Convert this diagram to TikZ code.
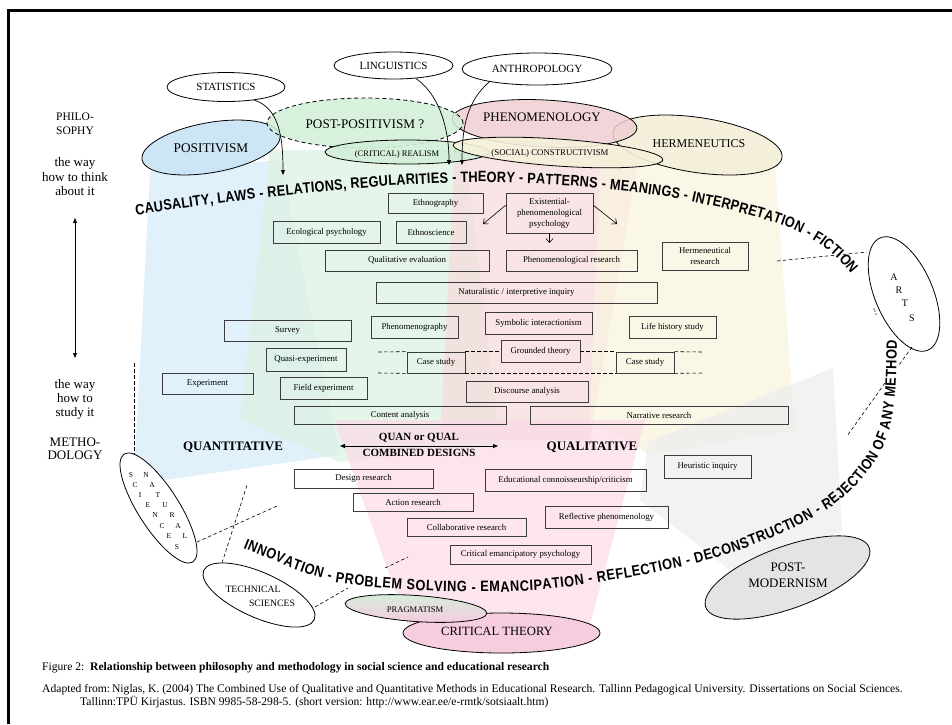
\documentclass[tikz,border=0pt]{standalone}
\usepackage{fontspec}
\setmainfont{Liberation Serif}
\newfontfamily\arcfont[FakeStretch=0.85]{Liberation Sans}
\usetikzlibrary{shapes.geometric,arrows.meta,decorations.text}
\definecolor{fanblue}{HTML}{D4ECFA}
\definecolor{fangreen}{HTML}{DCF2E1}
\definecolor{fanpink}{HTML}{F6D9DB}
\definecolor{fancream}{HTML}{F9F4DE}
\definecolor{fanpinkb}{HTML}{FBDAE8}
\definecolor{fangray}{HTML}{EDEDED}
\definecolor{cpos}{HTML}{CBE5F6}
\definecolor{cpost}{HTML}{D2EFD8}
\definecolor{cphen}{HTML}{F0CED2}
\definecolor{ccons}{HTML}{F5F0DA}
\definecolor{cherm}{HTML}{F4EFD8}
\definecolor{cpm}{HTML}{E4E4E4}
\definecolor{ccrit}{HTML}{F6CCDF}
\definecolor{boxgray}{HTML}{3C3C3C}
\begin{document}
\begin{tikzpicture}[x=1pt,y=-1pt,
  box/.style={draw=boxgray,line width=0.7pt,inner sep=0pt,align=center,font=\fontsize{8.8}{10.5}\selectfont},
  ell/.style={ellipse,draw=black,line width=0.8pt,inner sep=0pt},
  lbl/.style={inner sep=0pt,align=center},
  dsh/.style={draw=black,line width=0.6pt,dash pattern=on 3.5pt off 2.5pt},
  tip/.style={-{Triangle[length=5pt,width=4pt]}},
  dtip/.style={{Triangle[length=5pt,width=4pt]}-{Triangle[length=5pt,width=4pt]}},
  otip/.style={-{Straight Barb[length=4pt,width=7pt]}},
  fan/.style={fill opacity=0.7,draw=none},
  arctext/.style={decorate,decoration={text along path,text align=fit to path,
     text={|\arcfont\bfseries\fontsize{15}{15}\selectfont|#1}}}
]
\useasboundingbox (0,0) rectangle (952,724);
\fill[white] (0,0) rectangle (952,724);
% frame
\draw[line width=2.6pt] (8.5,724) -- (8.5,10.5) -- (952,10.5);

% background fans
\fill[fanblue,fan] (150,172) -- (280,160) -- (340,455) -- (165,480) -- (135,458) -- cycle;
\fill[fangreen,fan] (270,150) -- (465,150) -- (500,445) -- (340,462) -- (240,420) -- cycle;
\fill[fanpink,fan] (455,150) -- (640,150) -- (590,440) -- (440,440) -- cycle;
\fill[fancream,fan] (600,160) -- (775,165) -- (795,430) -- (650,455) -- (590,420) -- cycle;
\fill[fangray,fan] (648,442) -- (833,368) -- (842,532) -- (730,570) -- (640,500) -- cycle;
\fill[fanpinkb,fan] (334,420) -- (645,420) -- (588,632) -- (410,632) -- cycle;

% philosophy ellipses
\node[ell,fill=cherm,fill opacity=.9,minimum width=171,minimum height=55,rotate=-8.5] (herm) at (697.5,145) {};
\node[ell,fill=cphen,fill opacity=.85,minimum width=185,minimum height=47,rotate=-3] (phen) at (544.5,123.5) {};
\node[ell,fill=cpos,fill opacity=.95,minimum width=140,minimum height=50,rotate=10] (posit) at (211,147.5) {};
\node[ell,fill=cpost,fill opacity=.85,dash pattern=on 4pt off 3pt,minimum width=196,minimum height=50] (postpos) at (365,123) {};
\node[ell,fill=cpost,fill opacity=.9,minimum width=164,minimum height=24] (real) at (407,152) {};
\node[ell,fill=ccons,fill opacity=.9,minimum width=210,minimum height=27,rotate=-4] (cons) at (558,152.5) {};

\node[lbl,font=\fontsize{12}{12}\selectfont] (hermt) at (699,144) {HERMENEUTICS};
\node[lbl,font=\fontsize{13}{13}\selectfont] (phent) at (542,117) {PHENOMENOLOGY};
\node[lbl,font=\fontsize{13.3}{13}\selectfont] (positt) at (211,148) {POSITIVISM};
\node[lbl,font=\fontsize{13.2}{13}\selectfont] (postpost) at (365,124) {POST-POSITIVISM ?};
\node[lbl,font=\fontsize{8.5}{9}\selectfont] (realt) at (397,154) {(CRITICAL) REALISM};
\node[lbl,font=\fontsize{8.8}{9}\selectfont] (const) at (550,153) {(SOCIAL) CONSTRUCTIVISM};

% discipline ellipses
\node[ell,fill=white,minimum width=118,minimum height=29,font=\fontsize{11}{11}\selectfont] (stat) at (226,87) {STATISTICS};
\node[ell,fill=white,minimum width=119,minimum height=27,font=\fontsize{11}{11}\selectfont] (ling) at (393.5,65.5) {LINGUISTICS};
\node[ell,fill=white,minimum width=150,minimum height=32,font=\fontsize{11}{11}\selectfont] (anth) at (537,69) {ANTHROPOLOGY};

\node[ell,fill=white,minimum width=122,minimum height=58,rotate=-67] (arts) at (904,294) {};
\node[ell,fill=white,minimum width=128,minimum height=41,rotate=-57.5] (natsci) at (158.5,508) {};
\node[ell,fill=white,minimum width=121,minimum height=45,rotate=-24] (techsci) at (259,595) {};
\node[ell,fill=cpm,minimum width=174,minimum height=62,rotate=20] (postmod) at (787.5,577.5) {};
\node[ell,fill=ccrit,minimum width=197,minimum height=40] (crit) at (501.5,633) {};
\node[ell,top color=cpost,bottom color=ccrit,minimum width=142,minimum height=26,rotate=-4] (prag) at (416,608.5) {};

\node[lbl,font=\fontsize{12.6}{13}\selectfont] (critt) at (497,631) {CRITICAL THEORY};
\node[lbl,font=\fontsize{8.6}{9}\selectfont] (pragt) at (415,610) {PRAGMATISM};
\node[lbl,font=\fontsize{13}{16}\selectfont] (postmodt) at (788,575) {POST-\\MODERNISM};
\node[lbl,font=\fontsize{9.7}{10}\selectfont] (techt1) at (253,589) {TECHNICAL};
\node[lbl,font=\fontsize{9.7}{10}\selectfont] (techt2) at (272,603) {SCIENCES};

\foreach \c/\x/\y [count=\i] in {A/894/277,R/899/290,T/905/303,S/912/318}
  \node[lbl,font=\fontsize{10}{10}\selectfont] (art\i) at (\x,\y) {\c};
\node[lbl,font=\fontsize{11}{11}\selectfont,rotate=-68] (dots) at (875,312) {...};
\foreach \c/\x/\y [count=\i] in {S/131/475,C/135/485,I/140/495,E/148/505,N/155/515,C/162/526,E/169/536,S/177/547}
  \node[lbl,font=\fontsize{7.5}{8}\selectfont] (sci\i) at (\x,\y) {\c};
\foreach \c/\x/\y [count=\i] in {N/146/475,A/152/485,T/158/495,U/165/505,R/172/515,A/178/526,L/185/536}
  \node[lbl,font=\fontsize{7.5}{8}\selectfont] (nat\i) at (\x,\y) {\c};

% arrows from disciplines
\coordinate (statT) at (283,175);
\coordinate (lingT) at (449,165);
\coordinate (anthT) at (462,165);
\draw[tip,line width=0.7pt] (stat.-25) .. controls (280,108) and (283,140) .. (statT);
\draw[tip,line width=0.7pt] (ling.-30) .. controls (440,95) and (449,130) .. (lingT);
\draw[tip,line width=0.7pt] (anth.-165) .. controls (468,100) and (462,125) .. (anthT);

% left column
\node[lbl,font=\fontsize{11.5}{14}\selectfont] (philo) at (75,124) {PHILO-\\SOPHY};
\node[lbl,font=\fontsize{13}{14.5}\selectfont] (think) at (75,177) {the way\\how to think\\about it};
\node[lbl,font=\fontsize{13}{14}\selectfont] (study) at (75,399) {the way\\how to\\study it};
\node[lbl,font=\fontsize{13}{13.5}\selectfont] (metho) at (75,448.5) {METHO-\\DOLOGY};
\coordinate (vt) at (75,218);
\coordinate (vb) at (75,358);
\draw[dtip,line width=0.7pt] (vt) -- (vb);

% method boxes
\node[box,minimum width=95,minimum height=20] (eth) at (435.5,203) {Ethnography};
\node[box,minimum width=107,minimum height=22] (eco) at (326.5,232) {Ecological psychology};
\node[box,minimum width=70,minimum height=22] (ethsci) at (431,232) {Ethnoscience};
\node[box,minimum width=87,minimum height=40,font=\fontsize{8.8}{11}\selectfont] (exist) at (549.5,213) {Existential-\\phenomenological\\psychology};
\node[box,minimum width=164,minimum height=21] (qualeval) at (407,260.5) {Qualitative evaluation};
\node[box,minimum width=131,minimum height=21] (phenres) at (571.5,260.5) {Phenomenological research};
\node[box,minimum width=86,minimum height=28,font=\fontsize{8.8}{11}\selectfont] (hermres) at (705,256) {Hermeneutical\\research};
\node[box,minimum width=281,minimum height=21] (natur) at (516.5,292.5) {Naturalistic / interpretive inquiry};
\node[box,minimum width=127,minimum height=21] (survey) at (287.5,330.5) {Survey};
\node[box,minimum width=87,minimum height=22] (phenog) at (414.5,327) {Phenomenography};
\node[box,minimum width=107,minimum height=22] (symb) at (538.5,323) {Symbolic interactionism};
\node[box,minimum width=87,minimum height=22] (life) at (672.5,327) {Life history study};
\node[box,minimum width=80,minimum height=23] (quasi) at (306,359.5) {Quasi-experiment};
\node[box,minimum width=58,minimum height=21] (case1) at (436,362.5) {Case study};
\node[box,minimum width=79,minimum height=22] (grounded) at (540.5,351) {Grounded theory};
\node[box,minimum width=58,minimum height=21] (case2) at (645,362.5) {Case study};
\node[box,minimum width=91,minimum height=21] (exper) at (207.5,383.5) {Experiment};
\node[box,minimum width=87,minimum height=22] (field) at (323.5,388) {Field experiment};
\node[box,minimum width=122,minimum height=21] (disc) at (527,391.5) {Discourse analysis};
\node[box,minimum width=212,minimum height=18] (content) at (400,415) {Content analysis};
\node[box,minimum width=258,minimum height=18] (narr) at (659,415) {Narrative research};
\node[box,minimum width=87,minimum height=23] (heur) at (707.5,466.5) {Heuristic inquiry};
\node[box,minimum width=139,minimum height=19] (design) at (363.5,478.5) {Design research};
\node[box,minimum width=161,minimum height=22] (educ) at (565.5,480) {Educational connoisseurship/criticism};
\node[box,minimum width=120,minimum height=18] (action) at (413,502) {Action research};
\node[box,minimum width=123,minimum height=22] (reflect) at (606.5,517) {Reflective phenomenology};
\node[box,minimum width=119,minimum height=18] (collab) at (466.5,527) {Collaborative research};
\node[box,minimum width=141,minimum height=19] (critpsy) at (520.5,554.5) {Critical emancipatory psychology};

% arrows from existential box
\coordinate (exL) at (483,224);
\coordinate (exR) at (617,224);
\coordinate (exD) at (549.5,243);
\draw[otip,line width=0.6pt] (exist.170) -- (exL);
\draw[otip,line width=0.6pt] (exist.10) -- (exR);
\draw[otip,line width=0.6pt] (exist.south) -- (exD);

% dashed case-study band
\coordinate (du1) at (378,352);
\coordinate (du2) at (704,352);
\coordinate (dl1) at (378,373);
\coordinate (dl2) at (704,373);
\draw[dsh] (du1) -- (case1.north west);
\draw[dsh] (case1.north east) -- (grounded.west |- case1.north);
\draw[dsh] (grounded.east |- case2.north) -- (case2.north west);
\draw[dsh] (case2.north east) -- (du2);
\draw[dsh] (dl1) -- (case1.south west);
\draw[dsh] (case1.south east) -- (case2.south west);
\draw[dsh] (case2.south east) -- (dl2);

% methodology labels
\node[lbl,font=\bfseries\fontsize{13}{13}\selectfont] (quant) at (233,447) {QUANTITATIVE};
\node[lbl,font=\bfseries\fontsize{13}{13}\selectfont] (qual) at (592,447) {QUALITATIVE};
\node[lbl,font=\bfseries\fontsize{11}{16}\selectfont] (quanqual) at (419,445) {QUAN or QUAL\\COMBINED DESIGNS};
\coordinate (qa) at (340,446);
\coordinate (qb) at (498,446);
\draw[dtip,line width=0.7pt] (qa) -- (qb);

% dashed connectors to sciences and arts
\coordinate (m1) at (134,363);
\coordinate (m2) at (134,455);
\draw[dsh] (m1) -- (m2);
\coordinate (n1) at (197,542);
\coordinate (n2) at (277,506);
\draw[dsh] (n1) -- (n2);
\coordinate (t1) at (222,563);
\coordinate (t2) at (247,485);
\draw[dsh] (t1) -- (t2);
\coordinate (t3) at (315,607);
\coordinate (t4) at (348,588);
\coordinate (t5) at (385,568);
\coordinate (t6) at (408,557);
\draw[dsh] (t3) -- (t4);
\draw[dsh] (t5) -- (t6);
\coordinate (a1) at (777,261);
\coordinate (a2) at (867,252);
\draw[dsh] (a1) -- (a2);
\coordinate (a3) at (912,347);
\coordinate (a4) at (899,365);
\coordinate (a5) at (885,383);
\coordinate (a6) at (847,436);
\draw[dsh] (a3) -- (a4);
\draw[dsh] (a5) -- (a6);

% curved texts
\path[arctext={CAUSALITY, LAWS - RELATIONS, REGULARITIES - THEORY - PATTERNS - MEANINGS - INTERPRETATION - FICTION}]
  (136,215) -- (168,210.2) -- (200,205.6) -- (235,201.2) -- (270,197) -- (310,192.8) -- (350,189) -- (385,186.2) -- (420,184) -- (450,182.7) -- (480,182) -- (510,182.4) -- (540,183.8) -- (570,185.7) -- (600,188.3) -- (630,191.6) -- (660,195.8) -- (690,201) -- (720,207.5) -- (745,213.8) -- (770,221) -- (790,228) -- (805,235) -- (818,243) -- (830,252) -- (841,262) -- (851,274);
\path[arctext={INNOVATION - PROBLEM SOLVING - EMANCIPATION - REFLECTION - DECONSTRUCTION - REJECTION OF ANY METHOD}]
  (243,548) -- (265,557) -- (290,567.5) -- (312,575.5) -- (335,582) -- (365,586.5) -- (400,589.5) -- (435,591.2) -- (470,592) -- (505,591.8) -- (540,590) -- (575,585.8) -- (610,580.5) -- (645,574.8) -- (680,567.5) -- (710,559.5) -- (740,550) -- (765,540.5) -- (790,530) -- (810,519.5) -- (830,508) -- (846,495) -- (860,481) -- (872,466) -- (882,450) -- (889,432) -- (893,412) -- (895.5,390) -- (896.5,365) -- (897,340);

% caption
\node[lbl,anchor=base west,font=\fontsize{11.6}{13}\selectfont] (fig) at (42,670) {Figure 2:\ \ \textbf{Relationship between philosophy and methodology in social science and educational research}};
\node[lbl,anchor=base west,font=\fontsize{11.6}{13}\selectfont] (adapt1) at (42,692) {Adapted from:\,Niglas, K. (2004) The Combined Use of Qualitative and Quantitative Methods in Educational Research. Tallinn Pedagogical University. Dissertations on Social Sciences.};
\node[lbl,anchor=base west,font=\fontsize{11.6}{13}\selectfont] (adapt2) at (80,705) {Tallinn:TPÜ Kirjastus. ISBN 9985-58-298-5. (short version: http://www.ear.ee/e-rmtk/sotsiaalt.htm)};
\end{tikzpicture}
\end{document}
